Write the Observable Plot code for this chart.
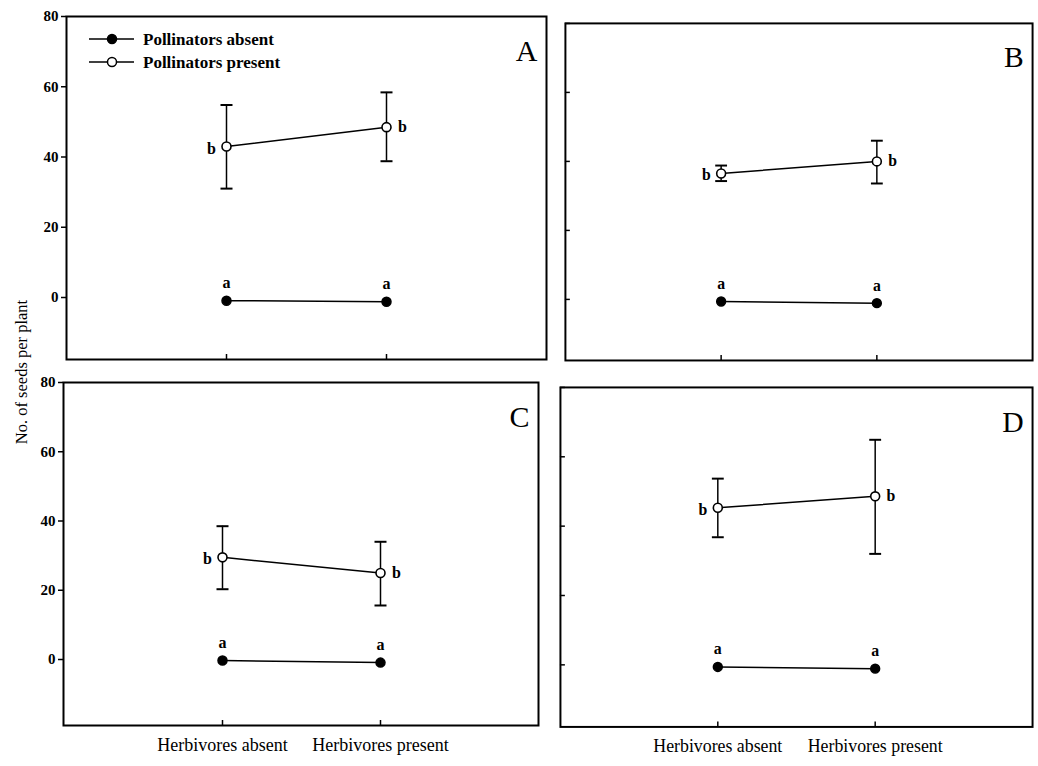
<!DOCTYPE html>
<html><head><meta charset="utf-8">
<script src="https://cdn.jsdelivr.net/npm/d3@7"></script>
<script src="https://cdn.jsdelivr.net/npm/@observablehq/plot@0.6"></script>
<style>
html,body{margin:0;padding:0;background:#fff;overflow:hidden}
#root{position:relative;width:1038px;height:766px;overflow:hidden;background:#fff;font-family:'Liberation Serif','Times New Roman',serif;color:#000}
.panel{position:absolute}
#ylabel{position:absolute;left:22px;top:372px;transform:translate(-50%,-50%) rotate(-90deg);font-size:16.5px;white-space:nowrap}
#legend{position:absolute;left:0;top:0}
</style></head><body><div id="root"></div>
<script>
// ---- data ----
const panelNames = ["A", "B", "C", "D"];
const herbivory = ["Herbivores absent", "Herbivores present"];
const series = ["Pollinators absent", "Pollinators present"];
const yTicks = [0, 20, 40, 60, 80];
// pollinators present: mean and error bar ends, per panel [herb absent, herb present]
const meanPresent = [[43, 48.5], [36.5, 40], [29.5, 25], [45.3, 48.6]];
const lowPresent  = [[31, 38.8], [34.3, 33.6], [20.3, 15.6], [36.8, 32]];
const highPresent = [[54.8, 58.4], [38.8, 46], [38.5, 34], [53.7, 64.9]];
// pollinators absent: mean
const meanAbsent  = [[-0.9, -1.2], [-0.6, -1.1], [-0.3, -0.9], [-0.6, -1.1]];
const letterAbsent = "a";
const letterPresent = "b";

// ---- layout (pixel boxes of each panel frame) ----
const layout = [
  {left: 66, top: 16, right: 546, bottom: 359, ymin: -17.65, yLabels: true, xLabels: false},
  {left: 565, top: 23, right: 1039, bottom: 365, ymin: -17.7, yLabels: false, xLabels: false},
  {left: 63, top: 382, right: 538, bottom: 725, ymin: -19.06, yLabels: true, xLabels: true},
  {left: 560, top: 387, right: 1037, bottom: 730, ymin: -17.9, yLabels: false, xLabels: true}
];

const root = document.getElementById("root");
const FONT = "'Liberation Serif','Times New Roman',serif";
// horizontal cap symbol for error bars
const capSymbol = {draw(ctx, size) { const w = Math.sqrt(size / Math.PI); ctx.moveTo(-w, 0); ctx.lineTo(w, 0); }};

function makePanel(i) {
  const box = layout[i];
  const ml = box.yLabels ? 44 : 6, mr = 6, mt = 6, mb = box.xLabels ? 40 : 6;
  const W = box.right - box.left, H = box.bottom - box.top;
  const absentRows = herbivory.map((h, j) => ({h, y: meanAbsent[i][j], letter: letterAbsent}));
  const presentRows = herbivory.map((h, j) => ({h, y: meanPresent[i][j], lo: lowPresent[i][j], hi: highPresent[i][j], letter: letterPresent}));
  const marks = [
    Plot.frame({stroke: "black", strokeWidth: 2}),
    box.yLabels
      ? Plot.axisY({anchor: "left", ticks: yTicks, tickSize: 5, tickPadding: 3, fontSize: 15, fontWeight: "bold", label: null, strokeWidth: 1.5})
      : Plot.axisY({anchor: "left", ticks: yTicks, tickSize: 5, dx: 5, tickFormat: () => "", label: null, strokeWidth: 1.5}),
    Plot.axisX({anchor: "bottom", tickSize: 5, dy: -5, tickFormat: () => "", label: null, strokeWidth: 1.5}),
    box.xLabels ? Plot.axisX({anchor: "bottom", tickSize: 0, tickPadding: 13, fontSize: 18, label: null}) : null,
    Plot.line(absentRows, {x: "h", y: "y", stroke: "black", strokeWidth: 1.5}),
    Plot.line(presentRows, {x: "h", y: "y", stroke: "black", strokeWidth: 1.5}),
    Plot.ruleX(presentRows, {x: "h", y1: "lo", y2: "hi", stroke: "black", strokeWidth: 1.5}),
    Plot.dot(presentRows, {x: "h", y: "lo", symbol: capSymbol, r: 6, fill: "none", stroke: "black", strokeWidth: 2}),
    Plot.dot(presentRows, {x: "h", y: "hi", symbol: capSymbol, r: 6, fill: "none", stroke: "black", strokeWidth: 2}),
    Plot.dot(absentRows, {x: "h", y: "y", r: 4.5, fill: "black", stroke: "black"}),
    Plot.dot(presentRows, {x: "h", y: "y", r: 4.5, fill: "white", stroke: "black", strokeWidth: 1.6}),
    Plot.text(absentRows, {x: "h", y: "y", text: "letter", dy: -18, fontSize: 16, fontWeight: "bold"}),
    Plot.text(presentRows.filter(d => d.h === herbivory[0]), {x: "h", y: "y", text: "letter", dx: -15, dy: 2, fontSize: 16, fontWeight: "bold"}),
    Plot.text(presentRows.filter(d => d.h === herbivory[1]), {x: "h", y: "y", text: "letter", dx: 16, dy: 0, fontSize: 16, fontWeight: "bold"}),
    Plot.text([panelNames[i]], {frameAnchor: "top-right", textAnchor: "end", lineAnchor: "middle", dx: -9, dy: 35, fontSize: 30})
  ].filter(Boolean);
  const chart = Plot.plot({
    width: W + ml + mr,
    height: H + mt + mb,
    marginLeft: ml, marginRight: mr, marginTop: mt, marginBottom: mb,
    style: {fontFamily: FONT, fontSize: "15px", color: "black", background: "transparent", overflow: "visible"},
    x: {type: "point", domain: herbivory, padding: 1},
    y: {domain: [box.ymin, 80]},
    marks
  });
  const div = document.createElement("div");
  div.className = "panel";
  div.style.left = (box.left - ml) + "px";
  div.style.top = (box.top - mt) + "px";
  div.appendChild(chart);
  root.appendChild(div);
}
panelNames.forEach((_, i) => makePanel(i));

// y-axis title
const yl = document.createElement("div");
yl.id = "ylabel";
yl.textContent = "No. of seeds per plant";
root.appendChild(yl);

// legend (inside panel A)
const ns = "http://www.w3.org/2000/svg";
const lg = document.createElementNS(ns, "svg");
lg.setAttribute("id", "legend");
lg.setAttribute("width", 300);
lg.setAttribute("height", 80);
lg.style.left = "0px"; lg.style.top = "0px";
series.forEach((s, k) => {
  const y = 39 + k * 23;
  const line = document.createElementNS(ns, "line");
  line.setAttribute("x1", 89); line.setAttribute("x2", 134);
  line.setAttribute("y1", y); line.setAttribute("y2", y);
  line.setAttribute("stroke", "black"); line.setAttribute("stroke-width", 1.5);
  lg.appendChild(line);
  const c = document.createElementNS(ns, "circle");
  c.setAttribute("cx", 112); c.setAttribute("cy", y); c.setAttribute("r", 4.5);
  c.setAttribute("fill", k === 0 ? "black" : "white");
  c.setAttribute("stroke", "black"); c.setAttribute("stroke-width", 1.5);
  lg.appendChild(c);
  const t = document.createElementNS(ns, "text");
  t.setAttribute("x", 143); t.setAttribute("y", y);
  t.setAttribute("dy", "0.35em");
  t.setAttribute("font-family", FONT);
  t.setAttribute("font-size", 17);
  t.setAttribute("font-weight", "bold");
  t.textContent = s;
  lg.appendChild(t);
});
root.appendChild(lg);
</script></body></html>
